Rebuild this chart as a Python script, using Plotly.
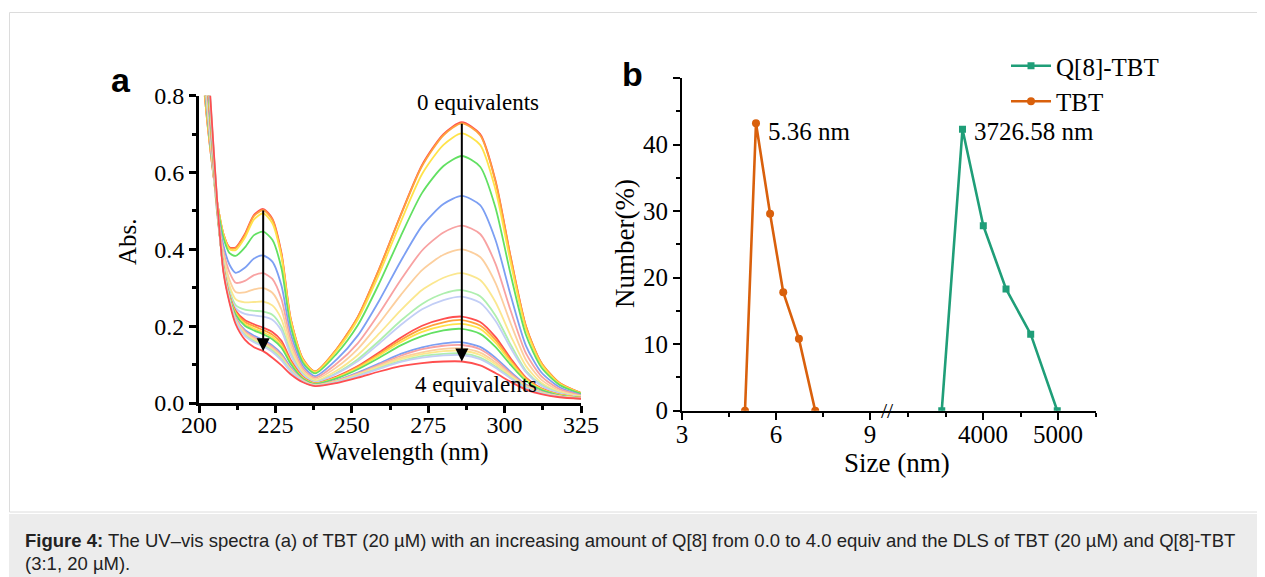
import plotly.graph_objects as go

# The page body has an 8 px margin, so the figure is drawn 8 px smaller and
# every layout position below is given in screen pixels and shifted by 8 px.
OFF = 8
W, H = 1265 - OFF, 577 - OFF

# ---------------- Panel a: UV-vis spectra ----------------
wavelength_nm = [201, 202, 204, 206, 208, 210, 212, 215, 218, 221, 224, 227, 230, 234,
                 238, 245, 252, 259, 266, 273, 280, 286, 292, 297, 302, 307, 312, 318, 325]

eq_0_0 = [0.90, 0.79, 0.64, 0.52, 0.44, 0.405, 0.405, 0.44, 0.49, 0.505, 0.48, 0.39, 0.22, 0.115,
          0.082, 0.140, 0.225, 0.350, 0.490, 0.620, 0.700, 0.731, 0.700, 0.580, 0.380, 0.200, 0.105, 0.052, 0.026]
eq_0_2 = [0.90, 0.79, 0.64, 0.52, 0.44, 0.403, 0.403, 0.437, 0.487, 0.502, 0.477, 0.385, 0.218, 0.114,
          0.082, 0.140, 0.224, 0.349, 0.488, 0.617, 0.697, 0.728, 0.697, 0.577, 0.378, 0.199, 0.105, 0.052, 0.026]
eq_0_4 = [0.91, 0.80, 0.645, 0.52, 0.438, 0.40, 0.398, 0.43, 0.478, 0.494, 0.468, 0.38, 0.215, 0.112,
          0.080, 0.136, 0.218, 0.337, 0.471, 0.596, 0.672, 0.702, 0.672, 0.556, 0.365, 0.192, 0.101, 0.050, 0.025]
eq_0_6 = [0.92, 0.81, 0.65, 0.515, 0.43, 0.39, 0.383, 0.405, 0.437, 0.446, 0.425, 0.35, 0.20, 0.105,
          0.077, 0.128, 0.203, 0.312, 0.434, 0.547, 0.617, 0.643, 0.615, 0.509, 0.334, 0.177, 0.093, 0.047, 0.024]
eq_0_8 = [0.94, 0.82, 0.655, 0.505, 0.41, 0.36, 0.339, 0.352, 0.376, 0.384, 0.368, 0.305, 0.18, 0.097,
          0.070, 0.113, 0.176, 0.267, 0.369, 0.461, 0.518, 0.539, 0.515, 0.425, 0.280, 0.149, 0.080, 0.041, 0.021]
eq_1_0 = [0.96, 0.83, 0.66, 0.50, 0.395, 0.34, 0.313, 0.318, 0.333, 0.338, 0.323, 0.27, 0.165, 0.09,
          0.066, 0.102, 0.156, 0.234, 0.320, 0.397, 0.444, 0.462, 0.440, 0.363, 0.240, 0.129, 0.070, 0.036, 0.020]
eq_1_2 = [0.98, 0.84, 0.665, 0.495, 0.385, 0.32, 0.289, 0.288, 0.296, 0.299, 0.287, 0.243, 0.152, 0.084,
          0.062, 0.093, 0.141, 0.208, 0.281, 0.346, 0.386, 0.400, 0.380, 0.313, 0.207, 0.112, 0.061, 0.032, 0.018]
eq_1_4 = [1.00, 0.85, 0.67, 0.49, 0.375, 0.305, 0.27, 0.262, 0.263, 0.264, 0.254, 0.218, 0.14, 0.079,
          0.058, 0.084, 0.125, 0.181, 0.241, 0.294, 0.326, 0.338, 0.320, 0.263, 0.175, 0.096, 0.053, 0.029, 0.017]
eq_1_6 = [1.02, 0.86, 0.68, 0.49, 0.365, 0.292, 0.255, 0.243, 0.240, 0.238, 0.23, 0.198, 0.13, 0.075,
          0.055, 0.078, 0.114, 0.162, 0.214, 0.258, 0.285, 0.294, 0.278, 0.228, 0.152, 0.084, 0.048, 0.026, 0.015]
eq_1_8 = [1.03, 0.87, 0.685, 0.49, 0.36, 0.286, 0.247, 0.232, 0.228, 0.225, 0.217, 0.188, 0.125, 0.073,
          0.054, 0.076, 0.109, 0.155, 0.203, 0.244, 0.268, 0.277, 0.261, 0.214, 0.143, 0.080, 0.045, 0.025, 0.015]
eq_2_0 = [1.06, 0.90, 0.70, 0.50, 0.355, 0.28, 0.24, 0.216, 0.205, 0.196, 0.185, 0.162, 0.112, 0.068,
          0.051, 0.069, 0.096, 0.132, 0.170, 0.201, 0.219, 0.225, 0.211, 0.172, 0.116, 0.066, 0.038, 0.022, 0.014]
eq_2_2 = [1.07, 0.91, 0.71, 0.50, 0.353, 0.278, 0.236, 0.211, 0.200, 0.190, 0.178, 0.155, 0.108, 0.066,
          0.051, 0.067, 0.094, 0.128, 0.164, 0.193, 0.210, 0.216, 0.202, 0.165, 0.111, 0.064, 0.037, 0.021, 0.014]
eq_2_4 = [1.08, 0.92, 0.715, 0.505, 0.352, 0.276, 0.233, 0.206, 0.194, 0.184, 0.172, 0.149, 0.105, 0.065,
          0.050, 0.066, 0.091, 0.124, 0.158, 0.185, 0.201, 0.206, 0.193, 0.157, 0.106, 0.061, 0.036, 0.021, 0.013]
eq_2_6 = [1.09, 0.93, 0.72, 0.505, 0.35, 0.274, 0.23, 0.201, 0.189, 0.179, 0.166, 0.144, 0.102, 0.063,
          0.049, 0.064, 0.088, 0.118, 0.150, 0.174, 0.189, 0.193, 0.180, 0.146, 0.099, 0.057, 0.034, 0.020, 0.013]
eq_2_8 = [1.11, 0.95, 0.73, 0.51, 0.348, 0.27, 0.222, 0.19, 0.175, 0.164, 0.150, 0.128, 0.093, 0.060,
          0.047, 0.059, 0.079, 0.103, 0.128, 0.145, 0.155, 0.158, 0.146, 0.118, 0.081, 0.048, 0.030, 0.018, 0.012]
eq_3_0 = [1.12, 0.96, 0.735, 0.51, 0.347, 0.268, 0.22, 0.187, 0.171, 0.160, 0.146, 0.124, 0.090, 0.059,
          0.047, 0.058, 0.077, 0.100, 0.123, 0.140, 0.149, 0.151, 0.140, 0.113, 0.077, 0.046, 0.029, 0.018, 0.012]
eq_3_2 = [1.13, 0.97, 0.74, 0.515, 0.346, 0.267, 0.217, 0.183, 0.167, 0.156, 0.142, 0.120, 0.088, 0.058,
          0.046, 0.057, 0.075, 0.097, 0.118, 0.132, 0.141, 0.142, 0.131, 0.106, 0.073, 0.044, 0.028, 0.017, 0.012]
eq_3_4 = [1.14, 0.98, 0.745, 0.515, 0.345, 0.266, 0.215, 0.18, 0.164, 0.153, 0.139, 0.117, 0.086, 0.057,
          0.046, 0.056, 0.073, 0.094, 0.114, 0.127, 0.135, 0.136, 0.125, 0.101, 0.070, 0.042, 0.027, 0.017, 0.012]
eq_3_6 = [1.15, 0.99, 0.75, 0.515, 0.344, 0.265, 0.213, 0.177, 0.161, 0.150, 0.136, 0.114, 0.084, 0.056,
          0.045, 0.055, 0.071, 0.091, 0.109, 0.122, 0.128, 0.129, 0.118, 0.095, 0.066, 0.041, 0.026, 0.016, 0.011]
eq_3_8 = [1.16, 1.00, 0.755, 0.52, 0.343, 0.264, 0.211, 0.175, 0.158, 0.147, 0.133, 0.111, 0.082, 0.056,
          0.045, 0.054, 0.070, 0.089, 0.107, 0.118, 0.124, 0.125, 0.114, 0.092, 0.064, 0.039, 0.025, 0.016, 0.011]
eq_4_0 = [1.20, 1.02, 0.76, 0.52, 0.34, 0.26, 0.205, 0.165, 0.145, 0.135, 0.118, 0.098, 0.075, 0.054,
          0.044, 0.052, 0.066, 0.082, 0.096, 0.104, 0.108, 0.108, 0.098, 0.078, 0.055, 0.035, 0.023, 0.015, 0.011]

spectra = [eq_0_0, eq_0_2, eq_0_4, eq_0_6, eq_0_8, eq_1_0, eq_1_2, eq_1_4, eq_1_6, eq_1_8,
           eq_2_0, eq_2_2, eq_2_4, eq_2_6, eq_2_8, eq_3_0, eq_3_2, eq_3_4, eq_3_6, eq_3_8, eq_4_0]
equiv_labels = ["0.0", "0.2", "0.4", "0.6", "0.8", "1.0", "1.2", "1.4", "1.6", "1.8",
                "2.0", "2.2", "2.4", "2.6", "2.8", "3.0", "3.2", "3.4", "3.6", "3.8", "4.0"]
spectra_colors = ["#ff4f4f", "#ffa23c", "#ffe34a", "#62e062", "#7c9ff3",
                  "#f8a2a2", "#fccf9e", "#fbe78f", "#aeefae", "#c2cef6"]

# ---------------- Panel b: DLS ----------------
tbt_size = [5.01, 5.36, 5.81, 6.23, 6.73, 7.25]
tbt_number = [0.0, 43.2, 29.6, 17.8, 10.8, 0.0]
q8_size = [3450, 3726.58, 4004, 4307, 4636, 4990]
q8_number = [0.0, 42.3, 27.8, 18.3, 11.5, 0.0]

c_tbt = "#d9600c"
c_q8 = "#1f9e78"

SERIF = "Liberation Serif"
SANS = "Liberation Sans"

fig = go.Figure()

for i, (ys, lab) in enumerate(zip(spectra, equiv_labels)):
    fig.add_trace(go.Scatter(
        x=wavelength_nm, y=ys, mode="lines", name=lab + " equiv",
        line=dict(color=spectra_colors[i % 10], width=1.8, shape="spline", smoothing=0.7),
        xaxis="x", yaxis="y", showlegend=False, hoverinfo="skip"))

fig.add_trace(go.Scatter(
    x=q8_size, y=q8_number, mode="lines+markers", name="Q[8]-TBT",
    line=dict(color=c_q8, width=2.6), marker=dict(symbol="square", size=7, color=c_q8),
    xaxis="x3", yaxis="y2"))
fig.add_trace(go.Scatter(
    x=tbt_size, y=tbt_number, mode="lines+markers", name="TBT",
    line=dict(color=c_tbt, width=2.6), marker=dict(symbol="circle", size=8, color=c_tbt),
    xaxis="x2", yaxis="y2"))


def px(x):
    return (x - OFF) / W


def py(y):
    return 1 - (y - OFF) / H


axis_common = dict(showgrid=False, zeroline=False, showline=True, linecolor="black",
                   ticks="outside", tickcolor="black", mirror=False, automargin=False)

fig.update_layout(
    width=W, height=H, margin=dict(l=0, r=0, t=0, b=0, pad=0, autoexpand=False),
    paper_bgcolor="white", plot_bgcolor="rgba(0,0,0,0)",
    font=dict(family=SERIF, color="black"),
    xaxis=dict(domain=[px(199), px(581)], range=[200, 325], anchor="y",
               tickvals=[200, 225, 250, 275, 300, 325], linewidth=3, tickwidth=2.5, ticklen=7,
               tickfont=dict(family=SERIF, size=24), ticklabelstandoff=-9,
               minor=dict(tickvals=[212.5, 237.5, 262.5, 287.5, 312.5], ticks="outside",
                          ticklen=4, tickwidth=2.5, tickcolor="black"),
               **axis_common),
    yaxis=dict(domain=[py(403), py(95.7)], range=[0, 0.8], anchor="x",
               tickvals=[0, 0.2, 0.4, 0.6, 0.8], tickformat=".1f", linewidth=3, tickwidth=2.5, ticklen=7,
               tickfont=dict(family=SERIF, size=24),
               minor=dict(tickvals=[0.1, 0.3, 0.5, 0.7], ticks="outside",
                          ticklen=4, tickwidth=2.5, tickcolor="black"),
               **axis_common),
    xaxis2=dict(domain=[px(682), px(887)], range=[3, 9.54], anchor="y2",
                tickvals=[3, 6, 9], linewidth=2, tickwidth=2, ticklen=7,
                tickfont=dict(family=SERIF, size=25), ticklabelstandoff=-7,
                minor=dict(tickvals=[4.5, 7.5], ticks="outside", ticklen=4, tickwidth=2,
                           tickcolor="black"),
                **axis_common),
    xaxis3=dict(domain=[px(887), px(1095.5)], range=[2720, 5500], anchor="y2",
                tickvals=[4000, 5000], linewidth=2, tickwidth=2, ticklen=7,
                tickfont=dict(family=SERIF, size=25), ticklabelstandoff=-7,
                minor=dict(tickvals=[3000, 3500, 4500, 5500], ticks="outside", ticklen=4,
                           tickwidth=2, tickcolor="black"),
                **axis_common),
    yaxis2=dict(domain=[py(410.7), py(78)], range=[0, 50], anchor="x2",
                tickvals=[0, 10, 20, 30, 40, 50], ticktext=["0", "10", "20", "30", "40", ""],
                linewidth=2, tickwidth=2, ticklen=7,
                tickfont=dict(family=SERIF, size=25),
                minor=dict(tickvals=[5, 15, 25, 35, 45], ticks="outside", ticklen=4,
                           tickwidth=2, tickcolor="black"),
                **axis_common),
    showlegend=True,
    legend=dict(x=px(1006), y=py(43), xanchor="left", yanchor="top",
                font=dict(family=SERIF, size=25), bgcolor="rgba(0,0,0,0)",
                tracegroupgap=0, itemwidth=40),
)

ann = []
# panel letters
ann.append(dict(text="<b>a</b>", x=px(121), y=py(80), xref="paper", yref="paper",
                showarrow=False, font=dict(family=SANS, size=34), xanchor="center", yanchor="middle"))
ann.append(dict(text="<b>b</b>", x=px(632), y=py(74), xref="paper", yref="paper",
                showarrow=False, font=dict(family=SANS, size=34), xanchor="center", yanchor="middle"))
# axis titles
ann.append(dict(text="Abs.", x=px(128), y=py(242), xref="paper", yref="paper", textangle=-90,
                showarrow=False, font=dict(family=SERIF, size=25), xanchor="center", yanchor="middle"))
ann.append(dict(text="Wavelength (nm)", x=px(402), y=py(452), xref="paper", yref="paper",
                showarrow=False, font=dict(family=SERIF, size=25), xanchor="center", yanchor="middle"))
ann.append(dict(text="Number(%)", x=px(625), y=py(244), xref="paper", yref="paper", textangle=-90,
                showarrow=False, font=dict(family=SERIF, size=27), xanchor="center", yanchor="middle"))
ann.append(dict(text="Size (nm)", x=px(897), y=py(463), xref="paper", yref="paper",
                showarrow=False, font=dict(family=SERIF, size=27), xanchor="center", yanchor="middle"))
# equivalents labels and arrows
ann.append(dict(text="0 equivalents", x=291.3, y=0.781, xref="x", yref="y",
                showarrow=False, font=dict(family=SERIF, size=23), xanchor="center", yanchor="middle"))
ann.append(dict(text="4 equivalents", x=290.6, y=0.047, xref="x", yref="y",
                showarrow=False, font=dict(family=SERIF, size=23), xanchor="center", yanchor="middle"))
ann.append(dict(x=221, y=eq_4_0[9], ax=221, ay=eq_0_0[9], xref="x", yref="y", axref="x", ayref="y",
                showarrow=True, arrowhead=2, arrowsize=1.3, arrowwidth=2, arrowcolor="black", text=""))
ann.append(dict(x=286, y=eq_4_0[21], ax=286, ay=eq_0_0[21], xref="x", yref="y", axref="x", ayref="y",
                showarrow=True, arrowhead=2, arrowsize=1.3, arrowwidth=2, arrowcolor="black", text=""))
# DLS peak labels
ann.append(dict(text="5.36 nm", x=tbt_size[1], y=tbt_number[1], xref="x2", yref="y2",
                xshift=10, yshift=-8, showarrow=False, font=dict(family=SERIF, size=25),
                xanchor="left", yanchor="middle"))
ann.append(dict(text="3726.58 nm", x=q8_size[1], y=q8_number[1], xref="x3", yref="y2",
                xshift=10, yshift=-2, showarrow=False, font=dict(family=SERIF, size=25),
                xanchor="left", yanchor="middle"))
# axis break mark
ann.append(dict(text="//", x=px(887), y=py(410), xref="paper", yref="paper",
                showarrow=False, font=dict(family=SERIF, size=22), xanchor="center", yanchor="middle"))
# caption
ann.append(dict(text="<b>Figure 4:</b> The UV\u2013vis spectra (a) of TBT (20 \u00b5M) with an increasing amount of Q[8] "
                     "from 0.0 to 4.0 equiv and the DLS of TBT (20 \u00b5M) and Q[8]-TBT",
                x=px(23), y=py(540), xref="paper", yref="paper", showarrow=False,
                font=dict(family=SANS, size=18.5, color="#222222"), xanchor="left", yanchor="middle"))
ann.append(dict(text="(3:1, 20 \u00b5M).", x=px(23), y=py(563), xref="paper", yref="paper", showarrow=False,
                font=dict(family=SANS, size=18.5, color="#222222"), xanchor="left", yanchor="middle"))
fig.update_layout(annotations=ann)

fig.update_layout(shapes=[
    dict(type="rect", xref="paper", yref="paper", x0=px(9.5), x1=px(1275), y0=py(512), y1=py(12.5),
         line=dict(color="#dcdcdc", width=1), fillcolor="rgba(0,0,0,0)", layer="below"),
    dict(type="rect", xref="paper", yref="paper", x0=px(9), x1=px(1275), y0=py(590), y1=py(514),
         line=dict(width=0), fillcolor="#ececec", layer="below"),
])

fig.write_html("out.html")
